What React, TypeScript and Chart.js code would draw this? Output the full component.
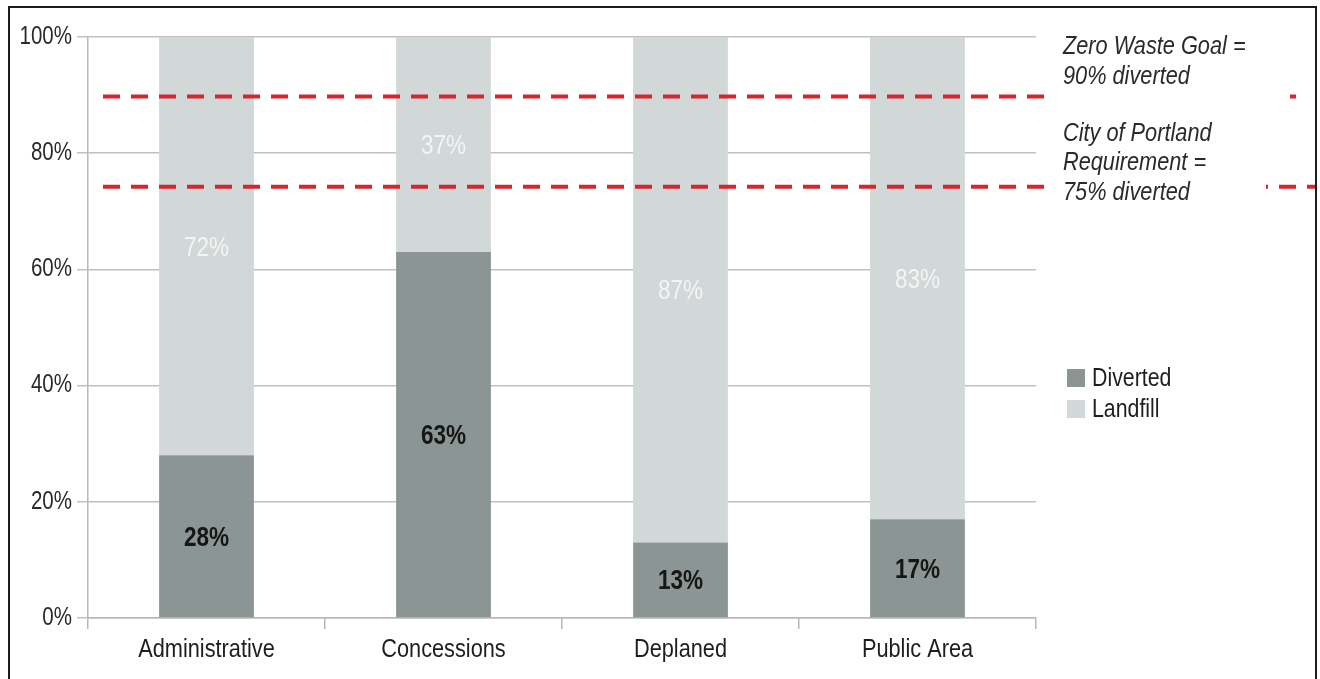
import React, { useEffect, useRef } from "react";
import { Chart, registerables } from "chart.js";

Chart.register(...registerables);

const categories = ["Administrative", "Concessions", "Deplaned", "Public Area"];
const diverted = [28, 63, 13, 17];
const landfill = [72, 37, 87, 83];
const yTickValues = [0, 20, 40, 60, 80, 100];
const goalValues = [90, 74.5];
const goalNotes = [
  ["Zero Waste Goal =", "90% diverted"],
  ["City of Portland", "Requirement =", "75% diverted"],
];
const seriesNames = ["Diverted", "Landfill"];

const FONT = "'Liberation Sans', Arial, sans-serif";
const CONDENSE = 0.82;
const DIVERTED_COLOR = "#8b9694";
const LANDFILL_COLOR = "#d2d7d7";
const RED = "#d3262f";

const condensePlugin = {
  id: "condense",
  beforeDraw(chart: any) {
    const ctx = chart.ctx;
    if (ctx.__condensed) return;
    const orig = ctx.fillText;
    ctx.fillText = function (t: string, x: number, y: number) {
      this.save();
      this.translate(x, y);
      this.scale(CONDENSE, 1);
      orig.call(this, t, 0, 0);
      this.restore();
    };
    ctx.__condensed = true;
  },
};

const overlayPlugin = {
  id: "overlay",
  afterDatasetsDraw(chart: any) {
    const ctx = chart.ctx;
    const area = chart.chartArea;
    // in-bar value labels
    chart.data.datasets.forEach((ds: any, di: number) => {
      const meta = chart.getDatasetMeta(di);
      meta.data.forEach((bar: any, i: number) => {
        const v = ds.data[i];
        const cy = (bar.y + bar.base) / 2;
        ctx.save();
        ctx.textAlign = "center";
        ctx.textBaseline = "middle";
        if (di === 0) {
          ctx.font = `bold 27.5px ${FONT}`;
          ctx.fillStyle = "#161616";
        } else {
          ctx.font = `27.5px ${FONT}`;
          ctx.fillStyle = "#f3f5f5";
        }
        ctx.fillText(`${v}%`, bar.x, cy + 2);
        ctx.restore();
      });
    });
    // dashed goal lines
    const yScale = chart.scales.y;
    const rightPieces = [
      [1290, 1298],
      [1266, 1315],
    ];
    goalValues.forEach((gv, gi) => {
      const y = yScale.getPixelForValue(gv) + 1.5;
      const startX = area.left + 15;
      const ranges = [
        [startX, area.right + 8],
        rightPieces[gi],
      ];
      ranges.forEach(([a, b]) => {
        ctx.save();
        ctx.beginPath();
        ctx.rect(a, y - 5, b - a, 10);
        ctx.clip();
        ctx.beginPath();
        ctx.setLineDash([17, 11]);
        ctx.lineDashOffset = 0;
        ctx.strokeStyle = RED;
        ctx.lineWidth = 4;
        ctx.moveTo(startX, y);
        ctx.lineTo(1320, y);
        ctx.stroke();
        ctx.restore();
      });
    });
    // goal notes
    ctx.save();
    ctx.font = `italic 26.5px ${FONT}`;
    ctx.fillStyle = "#2a2a2a";
    ctx.textAlign = "left";
    ctx.textBaseline = "middle";
    const y90 = yScale.getPixelForValue(goalValues[0]);
    const y75 = yScale.getPixelForValue(goalValues[1]);
    const note1Bottom = y90 - 18;
    goalNotes[0].forEach((t, i) => {
      ctx.fillText(t, 1063, note1Bottom - (goalNotes[0].length - 1 - i) * 30);
    });
    const note2Bottom = y75 + 7;
    goalNotes[1].forEach((t, i) => {
      ctx.fillText(t, 1063, note2Bottom - (goalNotes[1].length - 1 - i) * 29.5);
    });
    ctx.restore();
    // legend
    ctx.save();
    ctx.font = `26px ${FONT}`;
    ctx.textAlign = "left";
    ctx.textBaseline = "middle";
    chart.data.datasets.forEach((ds: any, di: number) => {
      const top = 369 + di * 31;
      ctx.fillStyle = ds.backgroundColor;
      ctx.fillRect(1067, top, 18, 18);
      ctx.fillStyle = "#1e1e1e";
      ctx.fillText(ds.label, 1092, top + 10);
    });
    ctx.restore();
  },
};

export default function App() {
  const ref = useRef<HTMLCanvasElement | null>(null);
  useEffect(() => {
    if (!ref.current) return;
    const chart = new Chart(ref.current, {
      type: "bar",
      data: {
        labels: categories,
        datasets: [
          {
            label: seriesNames[0],
            data: diverted,
            backgroundColor: DIVERTED_COLOR,
            barPercentage: 0.4,
            categoryPercentage: 1,
          },
          {
            label: seriesNames[1],
            data: landfill,
            backgroundColor: LANDFILL_COLOR,
            barPercentage: 0.4,
            categoryPercentage: 1,
          },
        ],
      },
      options: {
        responsive: false,
        animation: false,
        devicePixelRatio: 1,
        layout: { padding: { left: 0, top: 37, right: 284, bottom: 0 } },
        plugins: {
          legend: { display: false },
          tooltip: { enabled: false },
        },
        scales: {
          x: {
            stacked: true,
            offset: true,
            grid: {
              display: true,
              offset: true,
              drawOnChartArea: false,
              drawTicks: true,
              tickLength: 11,
              color: "#b8b8b8",
              lineWidth: 1.5,
            },
            border: { display: true, color: "#b8b8b8", width: 1.5 },
            ticks: {
              color: "#1e1e1e",
              font: { family: FONT, size: 26.5 },
              padding: 5,
              autoSkip: false,
              maxRotation: 0,
              minRotation: 0,
            },
            afterFit: (s: any) => {
              s.height = 61;
            },
          },
          y: {
            stacked: true,
            min: 0,
            max: 100,
            afterBuildTicks: (s: any) => {
              s.ticks = yTickValues.map((v) => ({ value: v }));
            },
            grid: {
              color: "#c0c0c0",
              lineWidth: 1.5,
              tickLength: 11,
            },
            border: { display: true, color: "#b8b8b8", width: 1.5 },
            ticks: {
              color: "#2a2a2a",
              font: { family: FONT, size: 25 },
              padding: 5,
              callback: (v: any) => `${v}%`,
            },
            afterFit: (s: any) => {
              s.width = 88;
            },
          },
        },
      },
      plugins: [condensePlugin, overlayPlugin],
    });
    return () => chart.destroy();
  }, []);

  return (
    <div style={{ position: "absolute", left: 0, top: 0, width: 1320, height: 679, background: "#fff", overflow: "hidden" }}>
      <canvas ref={ref} width={1320} height={679} style={{ position: "absolute", left: 0, top: 0, width: 1320, height: 679 }} />
      <div
        style={{
          position: "absolute",
          left: 8,
          top: 6,
          width: 1305,
          height: 671,
          border: "2px solid #1c1c1c",
          borderBottom: "none",
          pointerEvents: "none",
        }}
      />
    </div>
  );
}
